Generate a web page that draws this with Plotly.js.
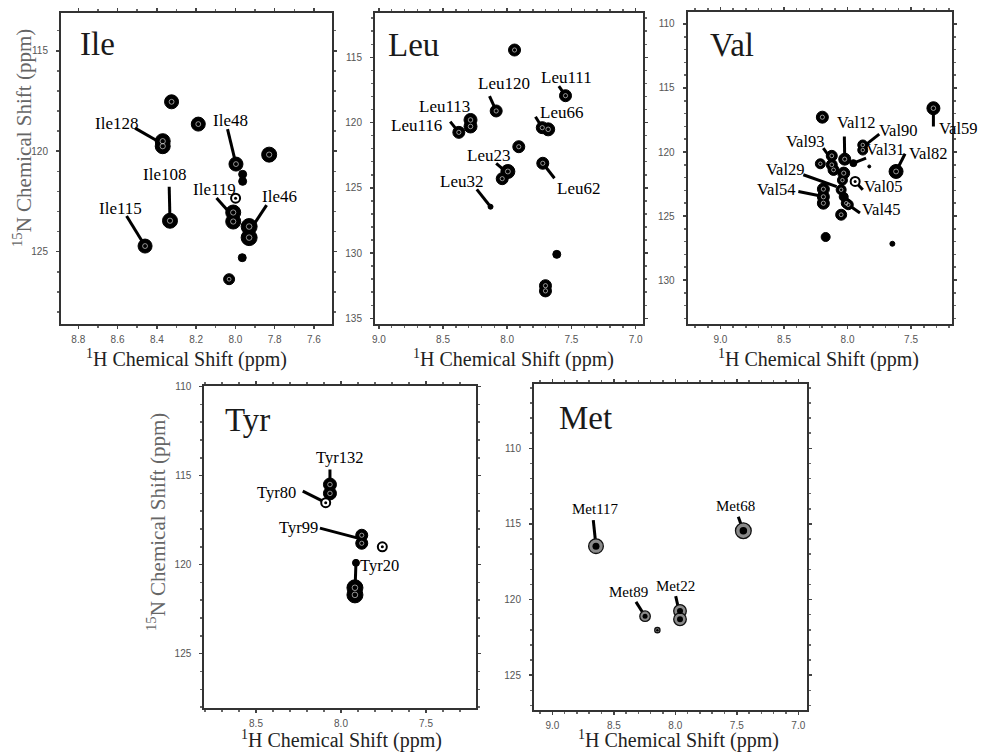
<!DOCTYPE html>
<html>
<head>
<meta charset="utf-8">
<script src="https://cdn.plot.ly/plotly-3.0.1.min.js"></script>
<style>html,body{margin:0;padding:0;background:#fff;}#chart{width:981px;height:753px;}</style>
</head>
<body>
<div id="chart"></div>
<script>
// ---------------- DATA ----------------
const panelNames = ["Ile", "Leu", "Val", "Tyr", "Met"];
const xTitle = "<sup>1</sup>H Chemical Shift (ppm)";
const yTitle = "<sup>15</sup>N Chemical Shift (ppm)";

// Ile: peaks (1H ppm, 15N ppm) and spot diameter
const ileH    = [8.325, 8.189, 8.370, 8.370, 7.997, 7.963, 7.963, 7.828, 8.333, 8.460, 8.011, 8.011, 7.930, 7.930, 7.965, 8.032];
const ileN    = [117.54, 118.65, 119.50, 119.75, 120.64, 121.15, 121.50, 120.17, 123.46, 124.72, 123.05, 123.50, 123.75, 124.30, 125.30, 126.37];
const ileSpot = [14, 14, 15, 15, 14, 8, 8, 15, 15, 14, 15, 15, 16, 16, 8, 11];
const ileRingH = [7.999];
const ileRingN = [122.34];
const ileLabels = ["Ile128", "Ile48", "Ile108", "Ile115", "Ile119", "Ile46"];
const ileLabH   = [8.605, 8.024, 8.359, 8.584, 8.104, 7.774];
const ileLabN   = [118.60, 118.48, 121.18, 122.84, 121.90, 122.23];
const ileLeadH  = [8.511, 8.040, 8.337, 8.554, 8.096, 7.841];
const ileLeadN  = [118.85, 118.90, 121.77, 123.22, 122.33, 122.68];
const ileTipH   = [8.370, 7.997, 8.333, 8.460, 8.011, 7.930];
const ileTipN   = [119.64, 120.64, 123.46, 124.72, 123.26, 124.00];

// Leu
const leuH    = [7.943, 7.546, 8.086, 8.286, 8.286, 8.377, 7.727, 7.681, 7.910, 7.995, 8.039, 7.723, 8.130, 7.614, 7.702, 7.702];
const leuN    = [114.44, 117.94, 119.11, 119.80, 120.30, 120.75, 120.39, 120.52, 121.85, 123.75, 124.30, 123.12, 126.45, 130.10, 132.50, 132.90];
const leuSpot = [12, 12, 12, 13, 13, 12, 12, 13, 12, 14, 12, 12, 5, 8, 12, 12];
const leuLabels = ["Leu111", "Leu120", "Leu113", "Leu116", "Leu66", "Leu23", "Leu62", "Leu32"];
const leuLabH   = [7.541, 8.027, 8.488, 8.709, 7.579, 8.143, 7.442, 8.358];
const leuLabN   = [116.53, 116.99, 118.73, 120.24, 119.25, 122.49, 125.04, 124.53];
const leuLeadH  = [7.598, 8.138, 8.307, 8.444, 7.780, 8.086, 7.632, 8.237];
const leuLeadN  = [117.20, 117.97, 119.42, 119.93, 119.55, 123.12, 124.27, 125.12];
const leuTipH   = [7.546, 8.086, 8.286, 8.377, 7.727, 7.995, 7.723, 8.130];
const leuTipN   = [117.94, 119.11, 120.06, 120.75, 120.39, 123.89, 123.12, 126.45];

// Val
const valH    = [8.198, 7.324, 8.022, 7.880, 7.880, 7.954, 7.618, 7.829, 8.124, 8.124, 8.110, 8.214, 8.030, 8.040, 8.050, 8.030, 8.010, 8.050, 8.190, 8.190, 8.190, 7.994, 8.172, 7.647];
const valN    = [117.28, 116.58, 120.56, 119.45, 119.85, 120.87, 121.52, 121.13, 120.30, 121.00, 121.40, 120.92, 121.65, 122.20, 122.95, 123.50, 124.00, 124.90, 122.90, 123.50, 124.00, 124.12, 126.64, 127.17];
const valSpot = [12, 13, 12, 10, 10, 7, 14, 3, 11, 11, 11, 10, 12, 10, 10, 9, 10, 11, 12, 12, 12, 10, 9, 5];
const valRingH = [7.940];
const valRingN = [122.30];
const valLabels = ["Val59", "Val12", "Val90", "Val31", "Val82", "Val93", "Val29", "Val05", "Val54", "Val45"];
const valLabH   = [7.287, 7.933, 7.600, 7.705, 7.364, 8.329, 8.492, 7.718, 8.558, 7.731];
const valLabN   = [118.14, 117.70, 118.30, 119.78, 120.14, 119.18, 121.39, 122.70, 122.90, 124.51];
const valLabAnchor = ["left", "center", "center", "center", "center", "center", "center", "center", "center", "center"];
const valLeadH  = [7.324, 8.025, 7.750, 7.854, 7.547, 8.191, 8.348, 7.880, 8.387, 7.902];
const valLeadN  = [118.01, 118.79, 118.60, 120.48, 120.14, 119.70, 121.78, 122.95, 123.09, 124.77];
const valTipH   = [7.324, 8.022, 7.880, 7.954, 7.618, 8.124, 8.085, 7.940, 8.190, 7.994];
const valTipN   = [116.58, 120.56, 119.62, 120.87, 121.52, 120.61, 122.70, 122.30, 123.47, 124.12];

// Tyr
const tyrH    = [8.065, 8.065, 7.878, 7.878, 7.912, 7.918, 7.918];
const tyrN    = [115.50, 116.00, 118.35, 118.80, 119.90, 121.30, 121.70];
const tyrSpot = [13, 13, 12, 12, 7, 16, 16];
const tyrRingH = [8.090, 7.757];
const tyrRingN = [116.52, 119.00];
const tyrLabels = ["Tyr132", "Tyr80", "Tyr99", "Tyr20"];
const tyrLabH   = [8.010, 8.382, 8.251, 7.771];
const tyrLabN   = [114.00, 115.96, 117.92, 120.06];
const tyrLeadH  = [8.065, 8.225, 8.124, 7.912];
const tyrLeadN  = [114.65, 115.87, 117.95, 119.90];
const tyrTipH   = [8.065, 8.090, 7.878, 7.918];
const tyrTipN   = [115.77, 116.52, 118.57, 121.55];

// Met
const metH    = [8.645, 7.447, 8.246, 7.962, 7.962, 8.146];
const metN    = [116.47, 115.45, 121.10, 120.75, 121.30, 122.02];
const metSpot = [14, 15, 10, 12, 12, 5];
const metLabels = ["Met117", "Met68", "Met89", "Met22"];
const metLabH   = [8.653, 7.507, 8.382, 8.002];
const metLabN   = [114.02, 113.82, 119.49, 119.11];
const metLeadH  = [8.667, 7.488, 8.320, 7.997];
const metLeadN  = [114.75, 114.53, 120.15, 119.77];
const metTipH   = [8.645, 7.447, 8.246, 7.962];
const metTipN   = [116.47, 115.45, 121.10, 121.03];

// ---------------- BUILD ----------------
const panels = [
  {name: panelNames[0], H: ileH, N: ileN, S: ileSpot, rH: ileRingH, rN: ileRingN, L: ileLabels, lH: ileLabH, lN: ileLabN, dH: ileLeadH, dN: ileLeadN, tH: ileTipH, tN: ileTipN, fs: 17},
  {name: panelNames[1], H: leuH, N: leuN, S: leuSpot, rH: [], rN: [], L: leuLabels, lH: leuLabH, lN: leuLabN, dH: leuLeadH, dN: leuLeadN, tH: leuTipH, tN: leuTipN, fs: 17},
  {name: panelNames[2], H: valH, N: valN, S: valSpot, rH: valRingH, rN: valRingN, L: valLabels, lH: valLabH, lN: valLabN, anc: valLabAnchor, dH: valLeadH, dN: valLeadN, tH: valTipH, tN: valTipN, fs: 16.5},
  {name: panelNames[3], H: tyrH, N: tyrN, S: tyrSpot, rH: tyrRingH, rN: tyrRingN, L: tyrLabels, lH: tyrLabH, lN: tyrLabN, dH: tyrLeadH, dN: tyrLeadN, tH: tyrTipH, tN: tyrTipN, fs: 16.5},
  {name: panelNames[4], H: metH, N: metN, S: metSpot, rH: [], rN: [], L: metLabels, lH: metLabH, lN: metLabN, dH: metLeadH, dN: metLeadN, tH: metTipH, tN: metTipN, fs: 15, met: true}
];

const W = 981, Hh = 753;
// xt: [centre x px, y px, anchor]
const boxes = [
  {x0: 61, x1: 332, y0: 13, y1: 324, xr: [8.888, 7.508], yr: [128.6, 113.12], dx: 0.2, dy: 5, nx: [0.063, 0.90], xt: [186, 345, "top"], yt: [22, 138]},
  {x0: 375, x1: 643.3, y0: 12.7, y1: 324.3, xr: [9.03, 6.94], yr: [135.46, 111.58], dx: 0.5, dy: 5, nx: [0.041, 0.896], xt: [513, 345, "top"]},
  {x0: 687.7, x1: 951.7, y0: 11.7, y1: 324.3, xr: [9.258, 7.18], yr: [133.46, 109.04], dx: 0.5, dy: 5, nx: [0.077, 0.893], xt: [818, 345, "top"]},
  {x0: 204.3, x1: 476, y0: 385.7, y1: 708.3, xr: [8.804, 7.206], yr: [128.07, 109.95], dx: 0.5, dy: 5, nx: [0.069, 0.894], xt: [341, 753, "bottom"], yt: [156, 522]},
  {x0: 534, x1: 807.3, y0: 384, y1: 710, xr: [9.149, 6.927], yr: [127.3, 105.75], dx: 0.5, dy: 5, nx: [0.084, 0.895], xt: [678, 753, "bottom"]}
];

const traces = [];
const annotations = [];
const layout = {
  width: W, height: Hh,
  margin: {l: 0, r: 0, t: 0, b: 0},
  paper_bgcolor: "#fff", plot_bgcolor: "#fff",
  showlegend: false,
  font: {family: "Liberation Serif, Times New Roman, serif", color: "#111"}
};
const serif = "Liberation Serif, Times New Roman, serif";

panels.forEach((p, i) => {
  const k = i === 0 ? "" : String(i + 1);
  const xa = "x" + k, ya = "y" + k;
  const b = boxes[i];

  // leader lines
  const lx = [], ly = [];
  for (let j = 0; j < p.L.length; j++) {
    lx.push(p.dH[j], p.tH[j], null);
    ly.push(p.dN[j], p.tN[j], null);
  }
  traces.push({type: "scatter", mode: "lines", x: lx, y: ly, xaxis: xa, yaxis: ya,
    line: {color: "#000", width: 3}, hoverinfo: "skip", cliponaxis: false});

  // peaks
  if (p.met) {
    traces.push({type: "scatter", mode: "markers", x: p.H, y: p.N, xaxis: xa, yaxis: ya,
      marker: {symbol: "circle", opacity: 1, size: p.S.map(s => s * 1.05), color: "#8a8a8a", line: {color: "#111", width: 1.3}}});
    traces.push({type: "scatter", mode: "markers", x: p.H, y: p.N, xaxis: xa, yaxis: ya,
      marker: {symbol: "circle", opacity: 1, size: p.S.map(s => s * 0.5), color: "#000", line: {width: 0}}});
  } else {
    traces.push({type: "scatter", mode: "markers", x: p.H, y: p.N, xaxis: xa, yaxis: ya,
      marker: {symbol: "circle", opacity: 1, size: p.S, color: "#000", line: {color: "#000", width: 1}}});
    traces.push({type: "scatter", mode: "markers", x: p.H, y: p.N, xaxis: xa, yaxis: ya,
      marker: {symbol: "circle-open", opacity: 1, size: p.S.map(s => s >= 10 ? s * 0.35 : 0), color: "rgba(255,255,255,0.8)", line: {width: 0.7}}});
    if (p.rH.length) {
      traces.push({type: "scatter", mode: "markers", x: p.rH, y: p.rN, xaxis: xa, yaxis: ya,
        marker: {symbol: "circle", opacity: 1, size: 9, color: "#fff", line: {color: "#000", width: 2}}});
      traces.push({type: "scatter", mode: "markers", x: p.rH, y: p.rN, xaxis: xa, yaxis: ya,
        marker: {symbol: "circle", opacity: 1, size: 3, color: "#000"}});
    }
  }

  // peak labels
  for (let j = 0; j < p.L.length; j++) {
    annotations.push({xref: xa, yref: ya, x: p.lH[j], y: p.lN[j], text: p.L[j], showarrow: false,
      xanchor: p.anc ? p.anc[j] : "center", yanchor: "middle", borderpad: 0,
      font: {family: serif, size: p.fs, color: "#000"}});
  }
  // panel name
  annotations.push({xref: xa + " domain", yref: ya + " domain", x: b.nx[0], y: b.nx[1], text: p.name,
    showarrow: false, xanchor: "left", yanchor: "middle",
    font: {family: serif, size: 33, color: "#1a1a1a"}});
  // axis titles
  annotations.push({xref: "paper", yref: "paper", x: b.xt[0] / W, y: 1 - b.xt[1] / Hh, text: xTitle,
    showarrow: false, xanchor: "center", yanchor: b.xt[2], borderpad: 0,
    font: {family: serif, size: 20, color: "#222"}});
  if (b.yt) {
    annotations.push({xref: "paper", yref: "paper", x: b.yt[0] / W, y: 1 - b.yt[1] / Hh, text: yTitle,
      showarrow: false, xanchor: "center", yanchor: "middle", textangle: -90, borderpad: 0,
      font: {family: serif, size: 21, color: "#666"}});
  }

  const common = {
    showline: true, linecolor: "#333", linewidth: 2, mirror: "allticks",
    ticks: "outside", ticklen: 3, tickwidth: 1.5, tickcolor: "#444",
    showgrid: false, zeroline: false,
    tickfont: {family: "Liberation Sans, Arial, sans-serif", size: 10, color: "#555"}
  };
  layout["xaxis" + k] = Object.assign({}, common, {
    domain: [b.x0 / W, b.x1 / W], anchor: ya, range: b.xr, dtick: b.dx, tick0: 7.0,
    tickformat: ".1f", minor: {dtick: 0.1, ticks: "outside", ticklen: 2, tickcolor: "#666"},
    ticklabelstandoff: 2
  });
  layout["yaxis" + k] = Object.assign({}, common, {
    domain: [1 - b.y1 / Hh, 1 - b.y0 / Hh], anchor: xa, range: b.yr, dtick: b.dy, tick0: 110,
    minor: {dtick: 1, ticks: "outside", ticklen: 2, tickcolor: "#666"},
    ticklabelstandoff: 6
  });
});

layout.annotations = annotations;
Plotly.newPlot("chart", traces, layout, {displayModeBar: false, staticPlot: true});
</script>
</body>
</html>
